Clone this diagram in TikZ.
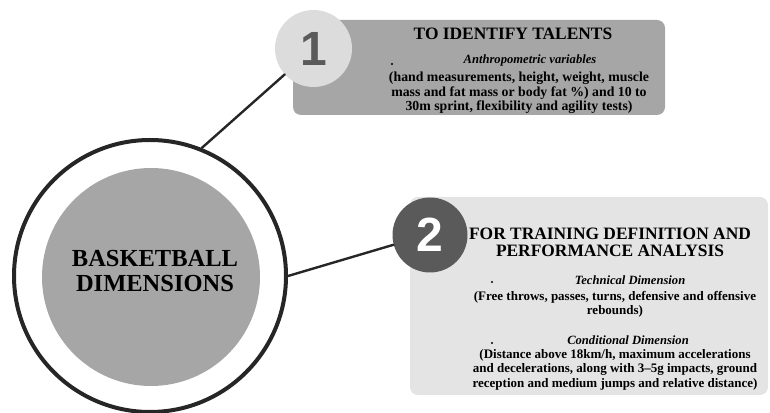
\documentclass[tikz,border=0pt]{standalone}
\usepackage{fontspec}
\setmainfont{Liberation Serif}
\newfontfamily\digitfont{Liberation Sans}
\usetikzlibrary{positioning}
\definecolor{discgray}{HTML}{A6A6A6}
\definecolor{palegray}{HTML}{DCDCDC}
\definecolor{sheetgray}{HTML}{E4E4E4}
\definecolor{darkgray}{HTML}{5A5A5A}

\begin{document}
\begin{tikzpicture}[x=1pt, y=1pt, line join=round, line cap=round,
  panel/.style={rounded corners=8pt, inner sep=0pt},
  badge/.style={circle, minimum size=77pt, inner sep=0pt, font=\digitfont\bfseries\fontsize{48}{48}\selectfont},
  link/.style={line width=2.4pt, draw=black!85},
  heading/.style={font=\bfseries\fontsize{17.4}{17}\selectfont, align=center, inner sep=0pt, anchor=base},
  subhead/.style={font=\bfseries\itshape\fontsize{12.6}{14.5}\selectfont, inner sep=0pt, anchor=base},
  bodytext/.style={font=\bfseries\fontsize{13}{14.5}\selectfont, align=center, inner sep=0pt, anchor=base},
  dot/.style={circle, fill=black, inner sep=0pt, minimum size=2.4pt}]
\useasboundingbox (0,0) rectangle (770,412);
\node[panel, fill=discgray, minimum width=372pt, minimum height=95pt] (talents) at (479,344.5) {};
\node[panel, fill=sheetgray, minimum width=358pt, minimum height=198pt] (training) at (589,116) {};
\node[circle, draw=black!85, line width=4pt, minimum size=272pt, inner sep=0pt] (ring) at (150,136) {};
\node[circle, fill=discgray, minimum size=218pt, inner sep=0pt] (disc) at (151,135) {};
\node[badge, fill=palegray, text=darkgray] (one) at (313.5,363.5) {1};
\node[badge, fill=darkgray, text=white, minimum size=75pt] (two) at (430,177) {2};
\draw[link] (ring.68.8) -- (one.222);
\draw[link] (ring.0.5) -- (two.195.5);
\node[font=\bfseries\fontsize{24.5}{25}\selectfont, align=center, inner sep=0pt] (title) at (155,141) {BASKETBALL\\DIMENSIONS};
\node[heading] (aim1) at (513,372) {TO IDENTIFY TALENTS};
\node[dot] (b1) at (392,348) {};
\node[subhead] (anthro) at (530,348) {Anthropometric variables};
\node[bodytext, font=\bfseries\fontsize{13.8}{14.5}\selectfont] (anthrotxt) at (519,301) {(hand measurements, height, weight, muscle\\mass and fat mass or body fat \%) and 10 to\\30m sprint, flexibility and agility tests)};
\node[heading] (aim2) at (610,155) {FOR TRAINING DEFINITION AND\\PERFORMANCE ANALYSIS};
\node[dot] (b2) at (492,130) {};
\node[subhead] (tech) at (630,127) {Technical Dimension};
\node[bodytext] (techtxt) at (615,97) {(Free throws, passes, turns, defensive and offensive\\rebounds)};
\node[dot] (b3) at (492,69) {};
\node[subhead] (cond) at (628,67) {Conditional Dimension};
\node[bodytext] (condtxt) at (615,25) {(Distance above 18km/h, maximum accelerations\\and decelerations, along with 3--5g impacts, ground\\reception and medium jumps and relative distance)};
\end{tikzpicture}
\end{document}
